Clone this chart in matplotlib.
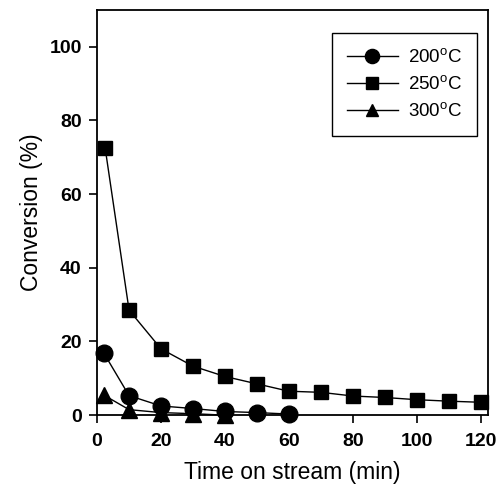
import matplotlib
matplotlib.use("Agg")
import matplotlib.pyplot as plt

plt.rcParams['font.family'] = ['Liberation Sans', 'DejaVu Sans']

t200 = [2, 10, 20, 30, 40, 50, 60]
c200 = [17, 5.3, 2.5, 1.8, 1.0, 0.7, 0.3]
t250 = [2.5, 10, 20, 30, 40, 50, 60, 70, 80, 90, 100, 110, 120]
c250 = [72.6, 28.5, 18, 13.3, 10.5, 8.5, 6.5, 6.2, 5.2, 4.8, 4.2, 3.8, 3.5]
t300 = [2, 10, 20, 30, 40]
c300 = [5.5, 1.5, 0.7, 0.4, 0.0]

fig = plt.figure(figsize=(4.98, 4.99), dpi=100)
ax = fig.add_axes([0.195, 0.168, 0.785, 0.812])

ax.plot(t200, c200, '-o', color='black', lw=1, ms=12, clip_on=False, label='200$^\\mathregular{o}$C')
ax.plot(t250, c250, '-s', color='black', lw=1, ms=10, clip_on=False, label='250$^\\mathregular{o}$C')
ax.plot(t300, c300, '-^', color='black', lw=1, ms=11, clip_on=False, label='300$^\\mathregular{o}$C')

ax.set_xlim(0, 122.3)
ax.set_ylim(0, 110)
ax.set_xticks(range(0, 121, 20))
ax.set_yticks(range(0, 101, 20))
ax.tick_params(direction='out', length=6, width=1.2, labelsize=14)
ax.tick_params(axis='x', pad=7)
ax.tick_params(axis='y', pad=5)
for lab in ax.get_xticklabels() + ax.get_yticklabels():
    lab.set_fontweight('bold')
for s in ax.spines.values():
    s.set_linewidth(1.3)

ax.set_xlabel('Time on stream (min)', fontsize=16.5, labelpad=8)
ax.set_ylabel('Conversion (%)', fontsize=16.5, labelpad=5)

leg = ax.legend(loc='upper right', bbox_to_anchor=(0.972, 0.943), fontsize=13.5,
                fancybox=False, edgecolor='black', framealpha=1,
                handlelength=2.7, handletextpad=0.55, borderpad=0.8,
                labelspacing=0.45, borderaxespad=0, markerscale=0.85)
leg.get_frame().set_linewidth(1.0)

fig.savefig('out.png', dpi=100)
